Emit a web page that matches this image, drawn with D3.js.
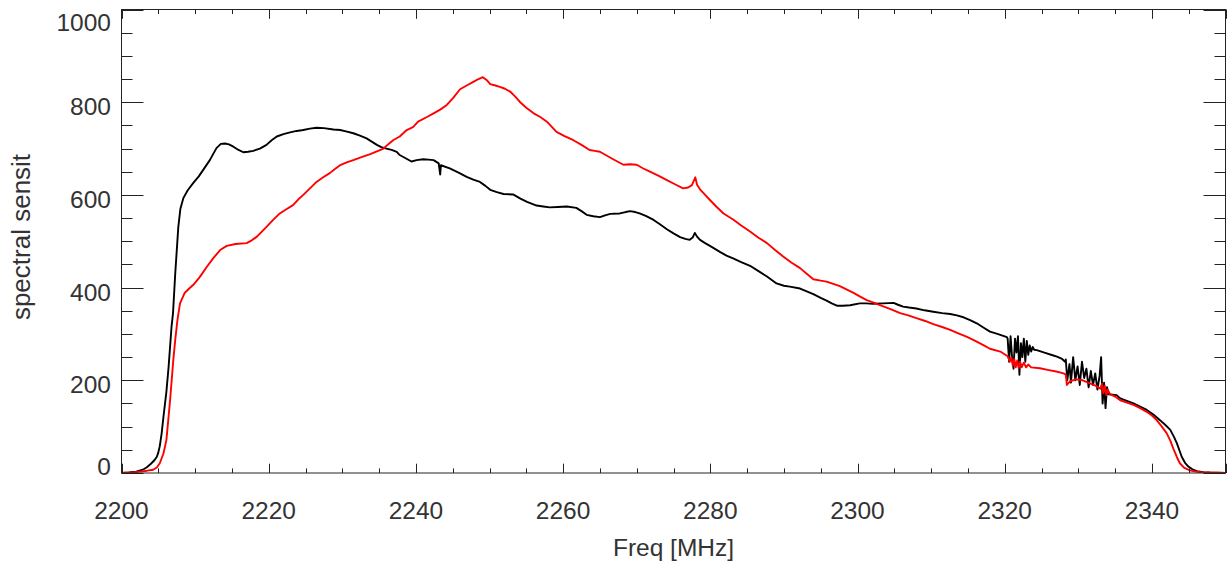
<!DOCTYPE html>
<html><head><meta charset="utf-8">
<script src="https://cdn.jsdelivr.net/npm/d3@7/dist/d3.min.js"></script>
<style>body{margin:0;background:#fff}svg{display:block}</style>
</head><body>
<svg id="chart" width="1232" height="565"></svg>
<script>
// ---- data ----
const blackFreq = [2200.0,2201.0,2202.0,2203.0,2203.4,2204.0,2204.5,2204.8,2205.0,2205.2,2205.45,2205.7,2206.1,2206.4,2206.8,2207.0,2207.3,2207.72,2208.0,2208.4,2209.0,2209.76,2210.5,2211.1,2212.0,2212.9,2213.5,2214.06,2214.6,2215.2,2215.9,2216.55,2217.2,2217.9,2218.8,2219.7,2220.4,2221.1,2222.0,2222.9,2223.8,2224.7,2225.6,2226.5,2227.5,2228.8,2229.7,2230.5,2231.5,2232.4,2233.3,2234.0,2234.7,2235.3,2236.0,2236.7,2237.4,2237.8,2238.6,2239.4,2240.1,2241.0,2241.7,2242.4,2243.1,2243.3,2243.4,2244.6,2245.8,2246.9,2247.8,2248.7,2249.4,2250.1,2251.0,2251.9,2253.2,2254.2,2255.1,2256.4,2257.3,2258.2,2259.3,2260.5,2261.8,2262.5,2263.2,2264.1,2265.0,2265.7,2266.4,2267.7,2268.5,2269.1,2269.8,2270.4,2271.3,2272.3,2273.2,2274.1,2275.0,2275.9,2276.6,2277.2,2277.6,2277.9,2278.2,2278.6,2279.3,2279.95,2281.3,2282.2,2283.1,2284.2,2285.4,2286.5,2287.7,2289.0,2290.0,2290.8,2292.2,2293.1,2294.0,2295.0,2295.8,2296.5,2297.2,2298.0,2299.0,2300.3,2301.2,2302.1,2303.5,2304.9,2305.5,2306.2,2307.0,2308.0,2309.1,2310.3,2311.5,2312.6,2313.5,2314.4,2315.3,2316.2,2317.1,2318.0,2319.0,2319.8,2320.3,
2320.4,2320.6,2320.8,2321.0,2321.2,2321.4,2321.6,2321.8,2322.0,2322.2,2322.4,2322.6,2322.8,2323.0,2323.2,2323.4,2323.6,2323.8,2324.0,
2324.35,2325.5,2326.5,2327.1,2327.8,2328.2,
2328.3,2328.5,2328.8,2329.0,2329.3,2329.6,2329.9,2330.2,2330.5,2330.8,2331.1,2331.4,2331.7,2332.0,2332.3,2332.6,2332.9,2333.1,2333.3,2333.5,2333.7,2333.9,2334.1,
2335.2,2335.7,2336.5,2337.5,2338.4,2339.3,2340.2,2341.1,2341.8,2342.5,2343.0,2343.4,2344.05,2344.5,2344.95,2345.5,2346.1,2347.0,2347.9,2350.0];
const blackVal = [0,1,3,8,12,20,28,35,44,58,85,121,175,229,316,345,430,531,570,593,610,626,640,654,675,701,710,711,709,704,697,692,693,695,700,708,718,726,731,735,738,740,743,745,744,741,740,737,733,728,722,715,708,703,700,697,693,686,679,672,675,677,676,675,668,644,664,657,648,639,633,628,620,611,606,602,601,592,585,577,575,573,574,575,572,565,557,554,552,556,559,560,563,565,563,560,554,546,536,526,517,509,505,503,508,518,510,503,496,490,477,469,463,455,447,436,424,409,404,402,398,392,386,378,372,366,361,361,362,366,366,365,366,367,363,359,357,355,351,348,345,343,340,336,330,323,314,305,300,296,293,
290,240,295,250,225,290,260,295,212,280,250,290,240,285,255,275,262,272,266,
265,259,254,251,246,240,
245,200,235,195,250,200,230,190,240,205,225,185,220,190,215,180,210,250,150,195,140,185,170,
168,161,156,150,143,136,126,114,104,93,78,64,35,22,14,8,4,2,1,0];

const redFreq = [2200.0,2201.5,2202.5,2203.5,2204.3,2204.8,2205.2,2205.7,2206.1,2206.6,2207.04,2207.3,2207.6,2207.95,2208.6,2209.2,2209.76,2210.6,2211.6,2212.5,2213.4,2214.3,2215.5,2217.0,2217.7,2218.4,2219.7,2220.6,2221.5,2222.4,2223.3,2224.0,2224.7,2225.6,2226.5,2227.4,2228.3,2229.0,2229.7,2230.6,2231.5,2232.7,2233.8,2234.7,2235.6,2236.3,2236.9,2237.8,2238.75,2239.6,2240.3,2241.5,2242.4,2243.3,2244.2,2245.1,2246.0,2246.9,2247.8,2248.5,2249.1,2249.6,2250.1,2250.8,2251.4,2252.1,2252.8,2253.5,2254.1,2255.0,2256.0,2256.9,2257.8,2258.5,2259.1,2260.2,2261.4,2262.5,2263.6,2264.3,2265.0,2265.9,2266.8,2267.5,2268.2,2269.1,2270.0,2270.9,2271.8,2273.0,2274.1,2275.2,2276.3,2277.0,2277.5,2277.96,2278.2,2278.6,2279.3,2279.95,2280.8,2281.8,2283.1,2284.2,2285.4,2286.5,2287.7,2288.8,2289.9,2291.0,2292.2,2293.1,2294.0,2295.0,2295.8,2296.7,2297.6,2298.5,2299.4,2300.3,2301.25,2302.1,2303.05,2304.4,2305.8,2306.9,2308.0,2309.2,2310.3,2311.5,2312.6,2313.7,2314.8,2316.0,2317.1,2318.0,2319.4,2320.4,
2320.7,2320.9,2321.1,2321.3,2321.5,2321.7,2321.9,2322.1,2322.3,2322.6,2322.9,2323.2,2323.6,
2324.8,2326.0,2327.0,2328.0,2328.3,2328.45,2328.9,2329.7,2330.6,2331.5,2332.4,2333.0,2333.2,2333.4,2333.6,2333.8,2334.0,2334.3,2335.0,2335.7,2336.6,2337.5,2338.4,2339.3,2340.0,2340.65,2341.3,2342.0,2342.5,2342.9,2343.4,2343.8,2344.4,2345.1,2346.0,2346.9,2350.0];
const redVal = [0,1,3,5,7,12,21,42,71,157,244,287,330,366,389,398,406,422,445,464,481,490,494,496,502,510,531,546,560,569,578,590,600,614,628,638,647,656,664,670,675,682,688,694,700,710,718,726,740,746,758,768,776,784,794,810,828,836,844,850,854,848,839,836,833,829,823,812,801,788,776,768,758,746,736,727,718,708,697,695,693,685,677,671,665,666,665,657,650,641,632,623,614,616,621,638,622,612,600,589,575,560,547,534,521,508,496,481,467,454,442,430,418,415,413,408,403,396,389,381,373,368,362,354,345,340,334,328,321,315,309,301,294,285,276,268,262,252,
240,250,232,246,228,243,226,240,228,238,228,234,228,
226,222,219,215,212,190,198,202,200,194,188,182,192,172,188,168,180,170,165,157,152,147,140,132,124,114,101,86,70,53,34,21,11,6,3,1,0];

const xMajorTicks = [2200,2220,2240,2260,2280,2300,2320,2340];
const yMajorTicks = [0,200,400,600,800,1000];
const xLabel = "Freq [MHz]";
const yLabel = "spectral sensit";

// ---- layout ----
const L = 121.5, R = 1225.5, T = 9.5, B = 473;
const x = d3.scaleLinear().domain([2200, 2350]).range([L, R]);
const y = d3.scaleLinear().domain([0, 1000]).range([B, T]);
const svg = d3.select("#chart");
const font = "'Liberation Sans', Arial, Helvetica, sans-serif";
const textCol = "#333";
const axisCol = "#222";

svg.append("defs").append("clipPath").attr("id","clip")
  .append("rect").attr("x", L).attr("y", T).attr("width", R-L).attr("height", B-T);

const line = d3.line().x(d => x(d[0])).y(d => y(d[1]));
const blackData = blackFreq.map((f,i) => [f, blackVal[i]]);
const redData = redFreq.map((f,i) => [f, redVal[i]]);

const g = svg.append("g").attr("clip-path","url(#clip)");
g.append("path").datum(blackData).attr("d", line)
  .attr("fill","none").attr("stroke","#000").attr("stroke-width",1.9).attr("stroke-linejoin","round");
g.append("path").datum(redData).attr("d", line)
  .attr("fill","none").attr("stroke","#ff0000").attr("stroke-width",1.9).attr("stroke-linejoin","round");

svg.append("rect").attr("x", L).attr("y", T).attr("width", R-L).attr("height", B-T)
  .attr("fill","none").attr("stroke", axisCol).attr("stroke-width",1);

const xMinor = d3.range(2200, 2350.1, 5);
const yMinor = d3.range(0, 1000.1, 50);
const tk = svg.append("g").attr("stroke", axisCol).attr("stroke-width",1);
xMinor.forEach(v => {
  const major = xMajorTicks.includes(v) || v === 2350;
  const len = major ? 9.3 : 4.6;
  const px = Math.round(x(v)) + 0.5;
  tk.append("line").attr("x1",px).attr("x2",px).attr("y1",B).attr("y2",B-len);
  tk.append("line").attr("x1",px).attr("x2",px).attr("y1",T).attr("y2",T+len);
});
yMinor.forEach(v => {
  const major = yMajorTicks.includes(v);
  const len = major ? 22 : 11;
  const py = Math.round(y(v)) + 0.5;
  tk.append("line").attr("x1",L).attr("x2",L+len).attr("y1",py).attr("y2",py);
  tk.append("line").attr("x1",R).attr("x2",R-len).attr("y1",py).attr("y2",py);
});

svg.append("g").selectAll("text").data(xMajorTicks).join("text")
  .attr("x", d => x(d)).attr("y", 518.5)
  .attr("text-anchor","middle").attr("font-family",font).attr("font-size",24.5).attr("fill",textCol)
  .text(d => d);
svg.append("g").selectAll("text").data(yMajorTicks).join("text")
  .attr("x", 111).attr("y", d => Math.min(Math.max(y(d) + 13, 30.7), 475))
  .attr("text-anchor","end").attr("font-family",font).attr("font-size",24.5).attr("fill",textCol)
  .text(d => d);

svg.append("text").attr("x", (L+R)/2).attr("y", 556)
  .attr("text-anchor","middle").attr("font-family",font).attr("font-size",24.5).attr("fill",textCol)
  .text(xLabel);
svg.append("text").attr("transform", `translate(30,237) rotate(-90)`)
  .attr("text-anchor","middle").attr("font-family",font).attr("font-size",26).attr("fill",textCol)
  .text(yLabel);
</script>
</body></html>
